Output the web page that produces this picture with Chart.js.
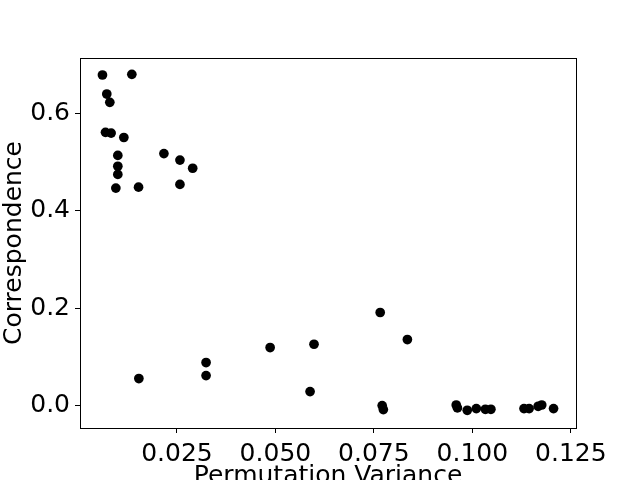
<!DOCTYPE html>
<html>
<head>
<meta charset="utf-8">
<script src="https://cdn.jsdelivr.net/npm/chart.js@4/dist/chart.umd.min.js"></script>
<style>
  html, body { margin: 0; padding: 0; background: #fff; }
  canvas { display: block; }
</style>
</head>
<body>
<canvas id="c" width="640" height="480"></canvas>
<script>
const permutationVariance = [0.0061, 0.01356, 0.0072, 0.00797, 0.00687, 0.0083, 0.01153, 0.0217, 0.02577, 0.029,
  0.0100, 0.0100, 0.0100, 0.0095, 0.01526, 0.02577, 0.01534, 0.0324, 0.0324, 0.04866, 0.0598, 0.0588,
  0.0766, 0.0835, 0.0771, 0.0774, 0.0959, 0.0962, 0.0987, 0.1010, 0.1033, 0.1047, 0.1131, 0.1144, 0.1167, 0.1176, 0.1206];
const correspondence = [0.678, 0.6794, 0.639, 0.622, 0.5605, 0.559, 0.550, 0.517, 0.5037, 0.487,
  0.5133, 0.491, 0.4744, 0.4463, 0.4483, 0.4539, 0.0562, 0.089, 0.0623, 0.1197, 0.1265, 0.0295,
  0.1915, 0.1361, 0.0008, -0.0074, 0.002, -0.004, -0.0088, -0.0053, -0.0068, -0.0068, -0.0053, -0.0053, -0.0006, 0.002, -0.0053];
const xTicks = [0.025, 0.050, 0.075, 0.100, 0.125];
const yTicks = [0.0, 0.2, 0.4, 0.6];
const xLabel = 'Permutation Variance';
const yLabel = 'Correspondence';

const points = permutationVariance.map((x, i) => ({ x: x, y: correspondence[i] }));
const FONT = { family: 'DejaVu Sans', size: 25 };

const frame = {
  id: 'frame',
  afterDraw(chart) {
    const a = chart.chartArea, ctx = chart.ctx;
    ctx.save();
    ctx.strokeStyle = '#000';
    ctx.lineWidth = 1;
    ctx.strokeRect(Math.round(a.left) + 0.5, Math.round(a.top) + 0.5,
                   Math.round(a.right - a.left), Math.round(a.bottom - a.top));
    ctx.restore();
  }
};

new Chart(document.getElementById('c'), {
  type: 'scatter',
  data: {
    datasets: [{
      data: points,
      backgroundColor: '#000',
      borderWidth: 0,
      pointRadius: 4.85,
      pointHoverRadius: 4.85
    }]
  },
  options: {
    responsive: false,
    animation: false,
    devicePixelRatio: 1,
    layout: { padding: { left: 0, right: 64, top: 58, bottom: 0 } },
    plugins: { legend: { display: false }, tooltip: { enabled: false } },
    scales: {
      x: {
        type: 'linear',
        min: 0.0004,
        max: 0.1263,
        afterBuildTicks: s => { s.ticks = xTicks.map(v => ({ value: v })); },
        afterFit: s => { s.height = 52; },
        grid: { display: true, drawOnChartArea: false, drawTicks: true, tickLength: 5, color: '#000', tickWidth: 1 },
        border: { display: false },
        ticks: { color: '#000', font: FONT, padding: 6, maxRotation: 0, autoSkip: false,
                 callback: v => v.toFixed(3) },
        title: { display: true, text: xLabel, color: '#000',
                 font: { family: 'DejaVu Sans', size: 25, lineHeight: 0.3 }, padding: 0 }
      },
      y: {
        type: 'linear',
        min: -0.0451,
        max: 0.7128,
        afterBuildTicks: s => { s.ticks = yTicks.map(v => ({ value: v })); },
        afterFit: s => { s.width = 80; },
        grid: { display: true, drawOnChartArea: false, drawTicks: true, tickLength: 5, color: '#000', tickWidth: 1 },
        border: { display: false },
        ticks: { color: '#000', font: FONT, padding: 5, autoSkip: false,
                 callback: v => v.toFixed(1) },
        title: { display: true, text: yLabel, color: '#000',
                 font: { family: 'DejaVu Sans', size: 25, lineHeight: 1.15 }, padding: 0 }
      }
    }
  },
  plugins: [frame]
});
</script>
</body>
</html>
